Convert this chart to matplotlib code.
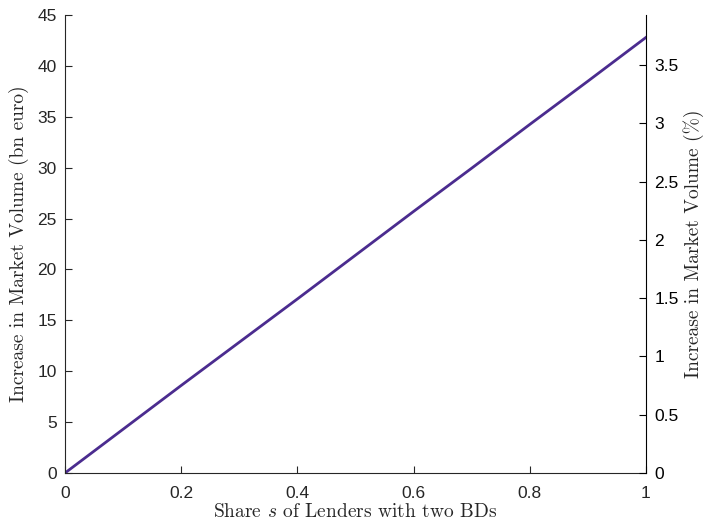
import numpy as np
import matplotlib.pyplot as plt

plt.rcParams['mathtext.fontset'] = 'cm'

# share of lenders with two BDs and the increase in market volume (bn euro)
share = [0.0, 0.1, 0.2, 0.3, 0.4, 0.5, 0.6, 0.7, 0.8, 0.9, 1.0]
volume_bn = [0.0, 4.3, 8.6, 12.85, 17.1, 21.4, 25.7, 29.95, 34.25, 38.5, 42.8]

left_max = 45
right_max = 3.93   # % scale on the right axis

fig = plt.figure(figsize=(7.04, 5.23), dpi=100)
ax = fig.add_axes([0.0923, 0.0956, 0.8253, 0.8757])

ax.plot(share, volume_bn, color='#4B2C8F', lw=2)
ax.set_xlim(0, 1)
ax.set_ylim(0, left_max)
ax.set_yticks(np.arange(0, 46, 5))
ax.set_xticks([0, 0.2, 0.4, 0.6, 0.8, 1])
ax.set_xticklabels(['0', '0.2', '0.4', '0.6', '0.8', '1'])

ax2 = ax.twinx()
ax2.set_ylim(0, right_max)
ax2.set_yticks(np.arange(0, 3.6, 0.5))
ax2.set_yticklabels(['0', '0.5', '1', '1.5', '2', '2.5', '3', '3.5'])

for a in (ax, ax2):
    a.spines['top'].set_visible(False)
    a.tick_params(labelsize=12.5, length=5, width=0.8, direction='in',
                  pad=6, labelfontfamily='Liberation Sans')
ax.tick_params(axis='x', pad=9)
ax.spines['left'].set_color('#262626')
ax.spines['bottom'].set_color('#262626')
ax.spines['right'].set_visible(False)
ax2.spines['left'].set_visible(False)
ax2.spines['bottom'].set_visible(False)
ax2.spines['right'].set_color('black')
ax.tick_params(colors='#262626')
ax2.tick_params(colors='black')

ax.set_xlabel('Share $s$ of Lenders with two BDs', family='cmr10',
              fontsize=14, color='#262626', labelpad=2)
ax.set_ylabel('Increase in Market Volume (bn euro)', family='cmr10',
              fontsize=14, color='#262626', labelpad=6)
ax2.set_ylabel('Increase in Market Volume (%)', family='cmr10',
               fontsize=14, color='#262626', labelpad=3)

fig.savefig('out.png', dpi=100)
